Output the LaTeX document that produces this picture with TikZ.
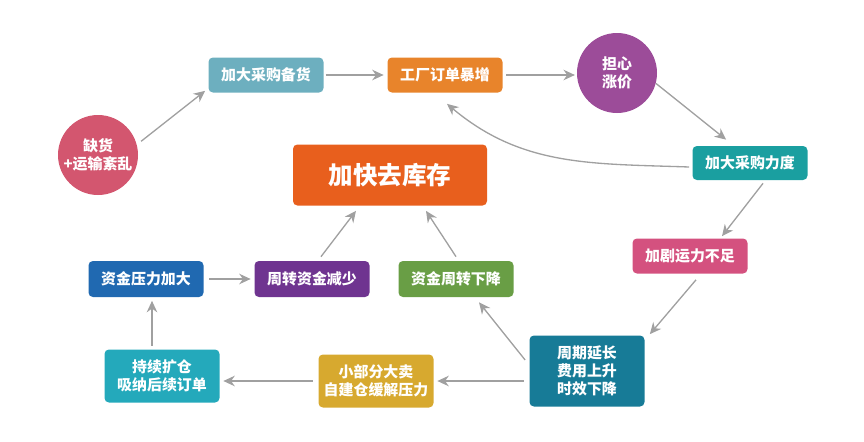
\documentclass[tikz,border=0pt]{standalone}
\usepackage{fontspec}
\setmainfont{Noto Sans CJK SC}
\usetikzlibrary{arrows.meta}

\definecolor{shortc}{HTML}{D3566F}
\definecolor{buyc}{HTML}{6DAFBF}
\definecolor{factoryc}{HTML}{E8842B}
\definecolor{worryc}{HTML}{9C4C99}
\definecolor{forcec}{HTML}{1A9FA0}
\definecolor{capc}{HTML}{D4517F}
\definecolor{cyclec}{HTML}{177B97}
\definecolor{sellc}{HTML}{D7A92F}
\definecolor{expandc}{HTML}{24A9BB}
\definecolor{fundc}{HTML}{2069B1}
\definecolor{turnc}{HTML}{6F3490}
\definecolor{dropc}{HTML}{699E45}
\definecolor{mainc}{HTML}{E85F1D}
\definecolor{arrc}{HTML}{A0A0A0}

\begin{document}
\begin{tikzpicture}[
  box/.style={rectangle, rounded corners=2.5pt, text=white, align=center,
    minimum width=2.3cm, inner sep=0pt, font=\fontsize{8.5}{10.2}\selectfont\bfseries},
  ball/.style={circle, minimum size=1.6cm, text=white, align=center,
    inner sep=0pt, font=\fontsize{8.5}{10.2}\selectfont\bfseries},
  arr/.style={draw=arrc, line width=0.75pt, -{Stealth[length=6.5pt, width=6pt]}}
]
\useasboundingbox (0,0) rectangle (17.28,8.82);

% top row
\node[ball, fill=shortc] (short) at (1.96,5.72) {缺货\\+运输紊乱};
\node[box, fill=buyc, minimum height=0.7cm] (buy) at (5.32,7.32) {加大采购备货};
\node[box, fill=factoryc, minimum height=0.7cm] (factory) at (8.9,7.32) {工厂订单暴增};
\node[ball, fill=worryc] (worry) at (12.34,7.36) {担心\\涨价};
\node[box, fill=forcec, minimum height=0.68cm] (force) at (15.0,5.56) {加大采购力度};
\node[box, fill=capc, minimum height=0.7cm] (cap) at (13.8,3.7) {加剧运力不足};

% middle
\node[box, fill=mainc, minimum width=3.88cm, minimum height=1.22cm,
  font=\fontsize{14}{16}\selectfont\bfseries] (main) at (7.8,5.32) {加快去库存};
\node[box, fill=fundc, minimum height=0.72cm] (fund) at (2.92,3.24) {资金压力加大};
\node[box, fill=turnc, minimum height=0.72cm] (turn) at (6.24,3.24) {周转资金减少};
\node[box, fill=dropc, minimum height=0.72cm] (drop) at (9.12,3.24) {资金周转下降};

% bottom row
\node[box, fill=expandc, minimum height=1.06cm] (expand) at (3.24,1.3) {持续扩仓\\吸纳后续订单};
\node[box, fill=sellc, minimum height=1.06cm] (sell) at (7.52,1.2) {小部分大卖\\自建仓缓解压力};
\node[box, fill=cyclec, minimum height=1.42cm] (cycle) at (11.74,1.4) {周期延长\\费用上升\\时效下降};

% connectors
\draw[arr, shorten <=3pt] (short.15) -- ([shift={(-0.06,0.04)}]buy.south west);
\draw[arr, shorten <=1pt, shorten >=2pt] (buy.east) -- (factory.west);
\draw[arr, shorten <=2pt, shorten >=1pt] (factory.east) -- (factory.east -| worry.west);
\draw[arr] (worry.-15) -- ([xshift=0.68cm, yshift=0.12cm]force.north west);
\draw[arr] ([shift={(-0.06,-0.08)}]force.west) to[out=178, in=-40] ([shift={(0.04,-0.22)}]factory.south);
\draw[arr] ([shift={(0.26,-0.06)}]force.south) -- ([shift={(0.64,0.04)}]cap.north);
\draw[arr] ([shift={(0.12,-0.12)}]cap.south) -- ([shift={(0.1,0.02)}]cycle.north east);
\draw[arr] ([shift={(-0.08,0.22)}]cycle.west) -- ([shift={(0.46,-0.1)}]drop.south);
\draw[arr, shorten <=3pt, shorten >=2pt] (sell.east -| cycle.west) -- (sell.east);
\draw[arr, shorten <=3pt, shorten >=2pt] (sell.west) -- (sell.west -| expand.east);
\draw[arr, shorten <=2pt, shorten >=2pt] ([xshift=-0.2cm]expand.north) -- ([xshift=-0.2cm]expand.north |- fund.south);
\draw[arr, shorten <=3pt, shorten >=2pt] (fund.east) -- (turn.west);
\draw[arr] ([shift={(0.18,0.08)}]turn.north) -- ([shift={(-0.68,-0.1)}]main.south);
\draw[arr] ([shift={(0,0.08)}]drop.north) -- ([shift={(0.72,-0.1)}]main.south);
\end{tikzpicture}
\end{document}
